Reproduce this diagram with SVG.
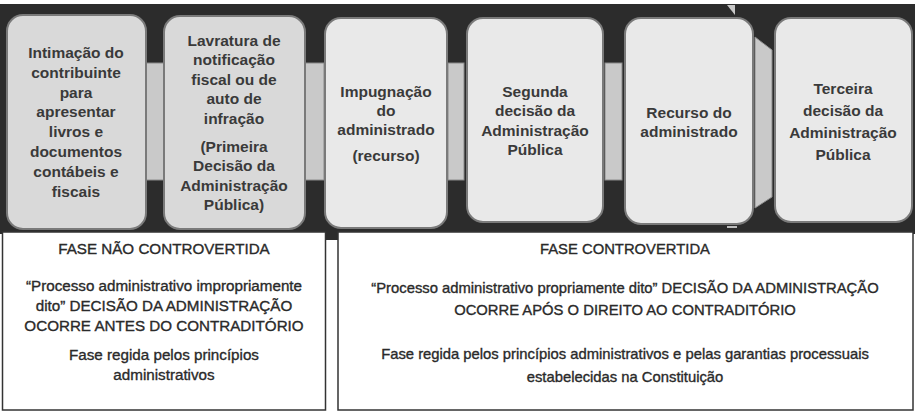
<svg xmlns="http://www.w3.org/2000/svg" width="917" height="414" viewBox="0 0 917 414">
<style>
.band{fill:#2c2c2c}
.node rect{stroke:#7a7a7a;stroke-width:2}
.n-dark{fill:#d9d9d9}
.n-light{fill:#e9e9e9}
.bar{fill:#c9c9c9;stroke:#8a8a8a;stroke-width:1}
.nt{font-family:"Liberation Sans",Arial,sans-serif;font-weight:bold;font-size:15.5px;fill:#3a3a3a;text-anchor:middle}
.box{fill:#ffffff;stroke:#333333;stroke-width:1.5}
.bt{font-family:"Liberation Sans",Arial,sans-serif;font-size:14.8px;fill:#2a2a2a;stroke:#2a2a2a;stroke-width:0.35;text-anchor:middle}
.bt-l{font-size:15.2px}
</style>
<rect width="917" height="414" fill="#ffffff"/>
<rect class="band" x="0" y="4" width="915" height="230"/>
<rect class="band" x="324" y="228" width="14" height="12"/>
<polygon points="727,5 735,5 735,15" fill="#c8c8c8"/>

<g id="connectors">
<rect class="bar" x="146" y="63" width="18" height="117"/>
<rect class="bar" x="305" y="63" width="19" height="117"/>
<rect class="bar" x="448" y="63" width="16" height="117"/>
<rect class="bar" x="605" y="63" width="17" height="117"/>
<polygon class="bar" points="755,37 772,50 772,197 755,208"/>
</g>

<g id="node1" class="node">
<rect class="n-dark" x="7" y="15" width="139" height="214" rx="16"/>
<text class="nt"><tspan x="76" y="58">Intimação do</tspan><tspan x="76" y="78">contribuinte</tspan><tspan x="76" y="98">para</tspan><tspan x="76" y="117">apresentar</tspan><tspan x="76" y="137">livros e</tspan><tspan x="76" y="157">documentos</tspan><tspan x="76" y="177">contábeis e</tspan><tspan x="76" y="197">fiscais</tspan></text>
</g>

<g id="node2" class="node">
<rect class="n-dark" x="164" y="16" width="141" height="213" rx="16"/>
<text class="nt"><tspan x="234" y="46">Lavratura de</tspan><tspan x="234" y="65">notificação</tspan><tspan x="234" y="85">fiscal ou de</tspan><tspan x="234" y="104">auto de</tspan><tspan x="234" y="124">infração</tspan><tspan x="234" y="152">(Primeira</tspan><tspan x="234" y="171">Decisão da</tspan><tspan x="234" y="191">Administração</tspan><tspan x="234" y="210">Pública)</tspan></text>
</g>

<g id="node3" class="node">
<rect class="n-light" x="325" y="18" width="122" height="210" rx="16"/>
<text class="nt"><tspan x="386" y="97">Impugnação</tspan><tspan x="386" y="116">do</tspan><tspan x="386" y="135">administrado</tspan><tspan x="386" y="161">(recurso)</tspan></text>
</g>

<g id="node4" class="node">
<rect class="n-light" x="467" y="18" width="136" height="204" rx="16"/>
<text class="nt"><tspan x="535" y="97">Segunda</tspan><tspan x="535" y="116">decisão da</tspan><tspan x="535" y="136">Administração</tspan><tspan x="535" y="155">Pública</tspan></text>
</g>

<g id="node5" class="node">
<rect class="n-light" x="625" y="18" width="128" height="206" rx="16"/>
<text class="nt"><tspan x="689" y="118">Recurso do</tspan><tspan x="689" y="137">administrado</tspan></text>
</g>

<g id="node6" class="node">
<rect class="n-light" x="775" y="18" width="137" height="204" rx="16"/>
<text class="nt"><tspan x="843" y="94">Terceira</tspan><tspan x="843" y="116">decisão da</tspan><tspan x="843" y="138">Administração</tspan><tspan x="843" y="160">Pública</tspan></text>
</g>

<rect x="727" y="226" width="10" height="2" fill="#bdbdbd"/>

<g id="fase-nao-controvertida">
<rect class="box" x="2.5" y="232" width="323" height="178"/>
<text class="bt bt-l"><tspan x="164" y="254">FASE NÃO CONTROVERTIDA</tspan><tspan x="164" y="291">“Processo administrativo impropriamente</tspan><tspan x="164" y="311">dito” DECISÃO DA ADMINISTRAÇÃO</tspan><tspan x="164" y="331">OCORRE ANTES DO CONTRADITÓRIO</tspan><tspan x="164" y="360">Fase regida pelos princípios</tspan><tspan x="164" y="380">administrativos</tspan></text>
</g>

<g id="fase-controvertida">
<rect class="box" x="338" y="232" width="575" height="178"/>
<text class="bt"><tspan x="625" y="254">FASE CONTROVERTIDA</tspan><tspan x="625" y="293">“Processo administrativo propriamente dito” DECISÃO DA ADMINISTRAÇÃO</tspan><tspan x="625" y="315">OCORRE APÓS O DIREITO AO CONTRADITÓRIO</tspan><tspan x="625" y="359">Fase regida pelos princípios administrativos e pelas garantias processuais</tspan><tspan x="625" y="382">estabelecidas na Constituição</tspan></text>
</g>
</svg>
